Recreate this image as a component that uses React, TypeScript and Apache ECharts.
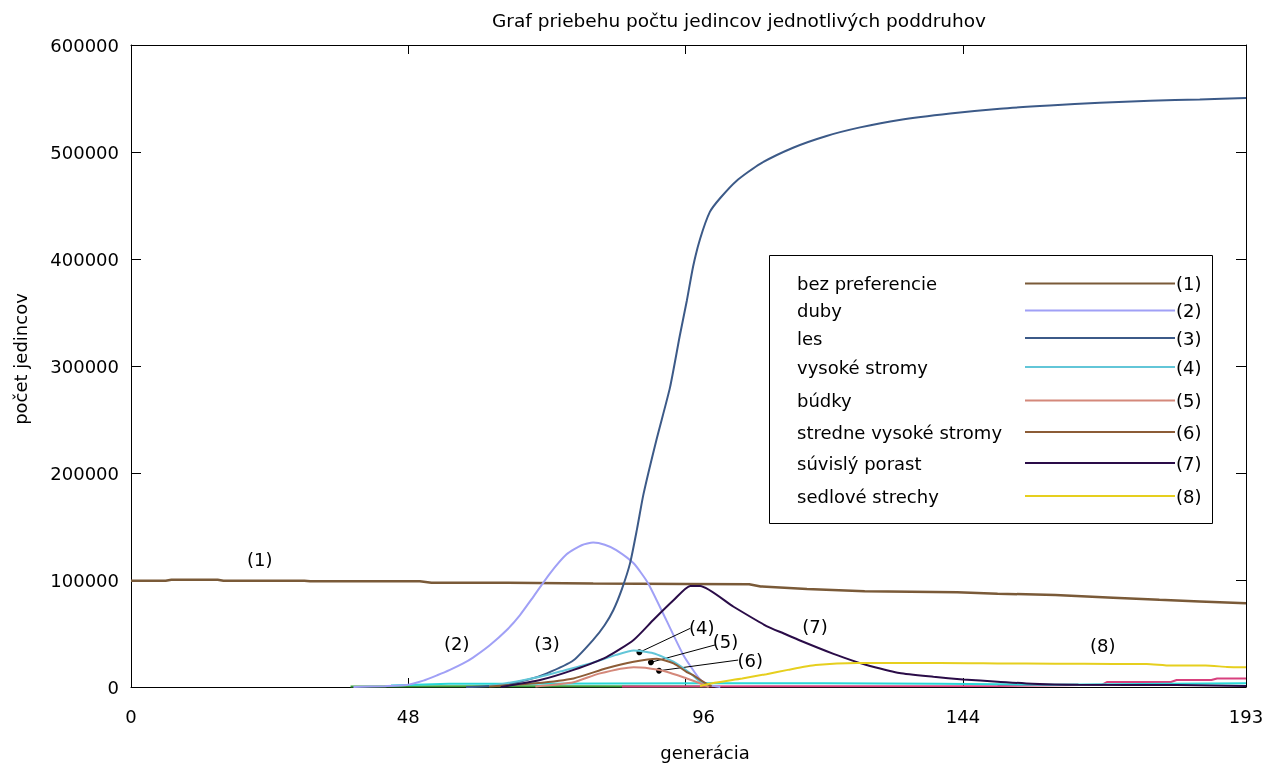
import { useEffect, useRef } from "react";
import * as echarts from "echarts";

// ---------- data ----------
const xTickValues = [0, 48, 96, 144, 193];

const seriesNames = [
  "bez preferencie",
  "duby",
  "les",
  "vysoké stromy",
  "búdky",
  "stredne vysoké stromy",
  "súvislý porast",
  "sedlové strechy",
];
const seriesTags = ["(1)", "(2)", "(3)", "(4)", "(5)", "(6)", "(7)", "(8)"];
const seriesColors = ["#7a5a38", "#a0a0f6", "#3c5a88", "#62c6d8", "#d4887a", "#8c5c36", "#2a0c48", "#e6cf1e"];

const bezPreferencieGen = [0, 6, 7, 15, 16, 30, 31, 50, 52, 70, 80, 96, 107, 109, 117, 127, 143, 150, 160, 170, 178, 185, 193];
const bezPreferencieVal = [99300, 99300, 100200, 100200, 99300, 99300, 98800, 98800, 97500, 97300, 96800, 96300, 96000, 94000, 91500, 89500, 88500, 87200, 86000, 83500, 81500, 80000, 78200];

const dubyGen = [38.5, 44, 47.7, 50.6, 53, 55.2, 57.5, 59.2, 62.1, 65, 67.3, 69.6, 72.5, 75.4, 78, 80, 82, 84, 87, 89.5, 92.7, 95.6, 98.5, 100, 102];
const dubyVal = [0, 800, 1900, 6000, 11000, 16000, 22000, 27500, 39000, 53000, 67000, 84000, 106000, 124000, 132500, 135000, 133000, 128000, 115600, 97000, 62000, 30000, 7000, 2000, 0];

const lesGen = [58, 63.3, 68.5, 72, 76.6, 80, 82, 83.5, 85, 86.4, 87.6, 88.7, 91, 93.3, 95, 96.2, 97.3, 98.5, 100.2, 102, 104.8, 108.9, 114.6, 120.4, 126.2, 133, 141.8, 150.4, 159, 167.7, 176.4, 185, 193];
const lesVal = [0, 1500, 6500, 12800, 25000, 44000, 58000, 72000, 92000, 116000, 148000, 180000, 232000, 280000, 328500, 360700, 393000, 418700, 444000, 457000, 473000, 489000, 504000, 515000, 523000, 530000, 536000, 540500, 543500, 546000, 548000, 549000, 550500];

const vysokeGen = [62, 65, 70.8, 75, 79.5, 84, 87, 90.4, 93.9, 96.8, 98.5, 100];
const vysokeVal = [1000, 3500, 9600, 15500, 22000, 30000, 34000, 31500, 23600, 12800, 5000, 1000];

const budkyGen = [70, 76.6, 81, 87, 89, 92.7, 96.2, 98.5, 100];
const budkyVal = [500, 4500, 12500, 18500, 18000, 14300, 8000, 3500, 0];

const strednGen = [62, 70, 76.6, 82.3, 87, 91, 93.9, 96.2, 97.3, 99, 100.5];
const strednVal = [500, 3500, 8000, 17500, 23600, 26500, 22000, 14000, 11000, 5000, 500];

const suvislyGen = [64, 70.8, 76.6, 82.3, 87, 90.4, 93.9, 96.8, 98.5, 104.3, 110, 113, 115.8, 121.6, 125.8, 127.3, 133, 138.9, 144, 150, 156, 164, 181, 193];
const suvislyVal = [0, 6500, 16000, 28000, 44000, 62600, 81000, 94400, 94400, 75000, 57000, 50000, 43500, 31000, 23000, 20500, 13000, 9500, 7000, 5000, 3000, 2000, 1800, 1000];

const sedloveGen = [98.5, 101, 105.8, 110, 113.7, 118.5, 125.8, 135, 145, 150, 160, 170, 175.8, 180, 186, 189.7, 193];
const sedloveVal = [1000, 4000, 8000, 12000, 16000, 20500, 22500, 22500, 22300, 22000, 21800, 21600, 21500, 20000, 20000, 18800, 18400];

// untitled near-zero curves along the bottom
const extraCyanGen = [45, 55, 100, 120, 140, 150, 160, 180, 193];
const extraCyanVal = [1500, 3000, 3500, 3500, 3000, 2500, 2000, 3000, 3500];
const extraPinkGen = [85, 150, 168, 169, 180, 181, 187, 188, 193];
const extraPinkVal = [500, 1000, 2000, 4700, 4700, 6500, 6500, 8000, 8000];
const extraGreenGen = [38, 60, 80, 100];
const extraGreenVal = [400, 600, 700, 500];

const annotationText = ["(1)", "(2)", "(3)", "(4)", "(5)", "(6)", "(7)", "(8)"];
const annotationGen = [22.3, 56.4, 72, 98.8, 102.9, 107.2, 118.4, 168.2];
const annotationVal = [119600, 40200, 40200, 55600, 42300, 25200, 57000, 38500];

const arrowFromGen = [88.0, 90.0, 91.4];
const arrowFromVal = [32400, 23100, 15200];
const arrowToGen = [96.8, 101.1, 105.1];
const arrowToVal = [54800, 39300, 25200];

// ---------- layout ----------
const FONT = "DejaVu Sans";
const legendRowY = [283.5, 310.5, 338, 367, 400.5, 432, 463, 496];

const zip = (g: number[], v: number[]) => g.map((x, i) => [x, v[i]]);

export default function App() {
  const ref = useRef<HTMLDivElement>(null);
  useEffect(() => {
    if (!ref.current) return;
    const chart = echarts.init(ref.current, null, { renderer: "svg" });
    const mainData = [
      zip(bezPreferencieGen, bezPreferencieVal),
      zip(dubyGen, dubyVal),
      zip(lesGen, lesVal),
      zip(vysokeGen, vysokeVal),
      zip(budkyGen, budkyVal),
      zip(strednGen, strednVal),
      zip(suvislyGen, suvislyVal),
      zip(sedloveGen, sedloveVal),
    ];
    const lineSeries: any[] = mainData.map((d, i) => ({
      type: "line",
      name: seriesNames[i],
      data: d,
      showSymbol: false,
      symbol: "none",
      smooth: i === 0 ? false : 0.2,
      lineStyle: { color: seriesColors[i], width: i === 0 ? 2.5 : 2 },
      itemStyle: { color: seriesColors[i] },
      z: 3 + i,
      silent: true,
    }));
    const extras = [
      { d: zip(extraGreenGen, extraGreenVal), c: "#3c9c3c" },
      { d: zip(extraPinkGen, extraPinkVal), c: "#d8407e" },
      { d: zip(extraCyanGen, extraCyanVal), c: "#28d8d8" },
    ];
    extras.forEach((e, k) =>
      lineSeries.push({
        type: "line",
        data: e.d,
        showSymbol: false,
        symbol: "none",
        lineStyle: { color: e.c, width: 2 },
        z: 2 + k * 0.1,
        silent: true,
      })
    );
    lineSeries.push({
      type: "scatter",
      data: annotationGen.map((g, i) => ({ value: [g, annotationVal[i]], name: annotationText[i] })),
      symbolSize: 1,
      itemStyle: { color: "rgba(0,0,0,0)", opacity: 1 },
      label: {
        show: true,
        position: "inside",
        formatter: (p: any) => p.name,
        fontFamily: FONT,
        fontSize: 18,
        color: "#000",
        opacity: 1,
      },
      z: 20,
      silent: true,
      markLine: {
        silent: true,
        symbol: ["circle", "none"],
        symbolSize: 6,
        lineStyle: { color: "#000", width: 1, type: "solid", opacity: 1 },
        itemStyle: { color: "#000" },
        label: { show: false },
        data: arrowFromGen.map((g, i) => [
          { coord: [g, arrowFromVal[i]] },
          { coord: [arrowToGen[i], arrowToVal[i]] },
        ]),
      },
    });

    const legendEls: any[] = [
      {
        type: "rect",
        shape: { x: 769.5, y: 255.5, width: 443, height: 268 },
        style: { fill: "#fff", stroke: "#000", lineWidth: 1 },
        z: 50,
      },
    ];
    seriesNames.forEach((n, i) => {
      legendEls.push({
        type: "text",
        x: 797,
        y: legendRowY[i],
        style: { text: n, fontFamily: FONT, fontSize: 18, fill: "#000", verticalAlign: "middle", align: "left" },
        z: 51,
      });
      legendEls.push({
        type: "line",
        shape: { x1: 1025, y1: legendRowY[i], x2: 1175, y2: legendRowY[i] },
        style: { stroke: seriesColors[i], lineWidth: 2 },
        z: 51,
      });
      legendEls.push({
        type: "text",
        x: 1176,
        y: legendRowY[i],
        style: { text: seriesTags[i], fontFamily: FONT, fontSize: 18, fill: "#000", verticalAlign: "middle", align: "left" },
        z: 51,
      });
    });

    const axisCommon = {
      axisLine: { show: true, onZero: false, lineStyle: { color: "#000", width: 1 } },
      splitLine: { show: false },
    };

    chart.setOption({
      animation: false,
      textStyle: { fontFamily: FONT },
      grid: { left: 131, right: 25, top: 45, bottom: 80, outerBoundsMode: "none", containLabel: false },
      xAxis: [
        {
          type: "value",
          min: 0,
          max: 193,
          position: "bottom",
          ...axisCommon,
          axisTick: { show: true, inside: true, length: 9, customValues: xTickValues, lineStyle: { color: "#000" } },
          axisLabel: {
            show: true,
            customValues: xTickValues,
            margin: 20,
            fontSize: 18,
            fontFamily: FONT,
            color: "#000",
            formatter: (v: number) => (v === 96 ? "{o|96}" : String(v)),
            rich: { o: { padding: [0, 0, 0, 36], fontSize: 18, fontFamily: FONT, color: "#000" } },
          },
        },
        {
          type: "value",
          min: 0,
          max: 193,
          position: "top",
          ...axisCommon,
          axisTick: { show: true, inside: true, length: 9, customValues: xTickValues, lineStyle: { color: "#000" } },
          axisLabel: { show: false },
        },
      ],
      yAxis: [
        {
          type: "value",
          min: 0,
          max: 600000,
          interval: 100000,
          position: "left",
          ...axisCommon,
          axisTick: { show: true, inside: true, length: 10, lineStyle: { color: "#000" } },
          axisLabel: {
            show: true,
            margin: 12,
            fontSize: 18,
            fontFamily: FONT,
            color: "#000",
            formatter: (v: number) => String(v),
          },
        },
        {
          type: "value",
          min: 0,
          max: 600000,
          interval: 100000,
          position: "right",
          ...axisCommon,
          axisTick: { show: true, inside: true, length: 10, lineStyle: { color: "#000" } },
          axisLabel: { show: false },
        },
      ],
      series: lineSeries,
      graphic: [
        {
          type: "text",
          x: 739,
          y: 20,
          style: {
            text: "Graf priebehu počtu jedincov jednotlivých poddruhov",
            fontFamily: FONT,
            fontSize: 18.5,
            fill: "#000",
            align: "center",
            verticalAlign: "middle",
          },
        },
        {
          type: "text",
          x: 705,
          y: 752,
          style: { text: "generácia", fontFamily: FONT, fontSize: 18, fill: "#000", align: "center", verticalAlign: "middle" },
        },
        {
          type: "text",
          x: 20,
          y: 359,
          rotation: Math.PI / 2,
          style: { text: "počet jedincov", fontFamily: FONT, fontSize: 18, fill: "#000", align: "center", verticalAlign: "middle" },
        },
        ...legendEls,
      ],
    });
    return () => chart.dispose();
  }, []);
  return <div ref={ref} style={{ position: "fixed", left: 0, top: 0, width: 1271, height: 767 }} />;
}
